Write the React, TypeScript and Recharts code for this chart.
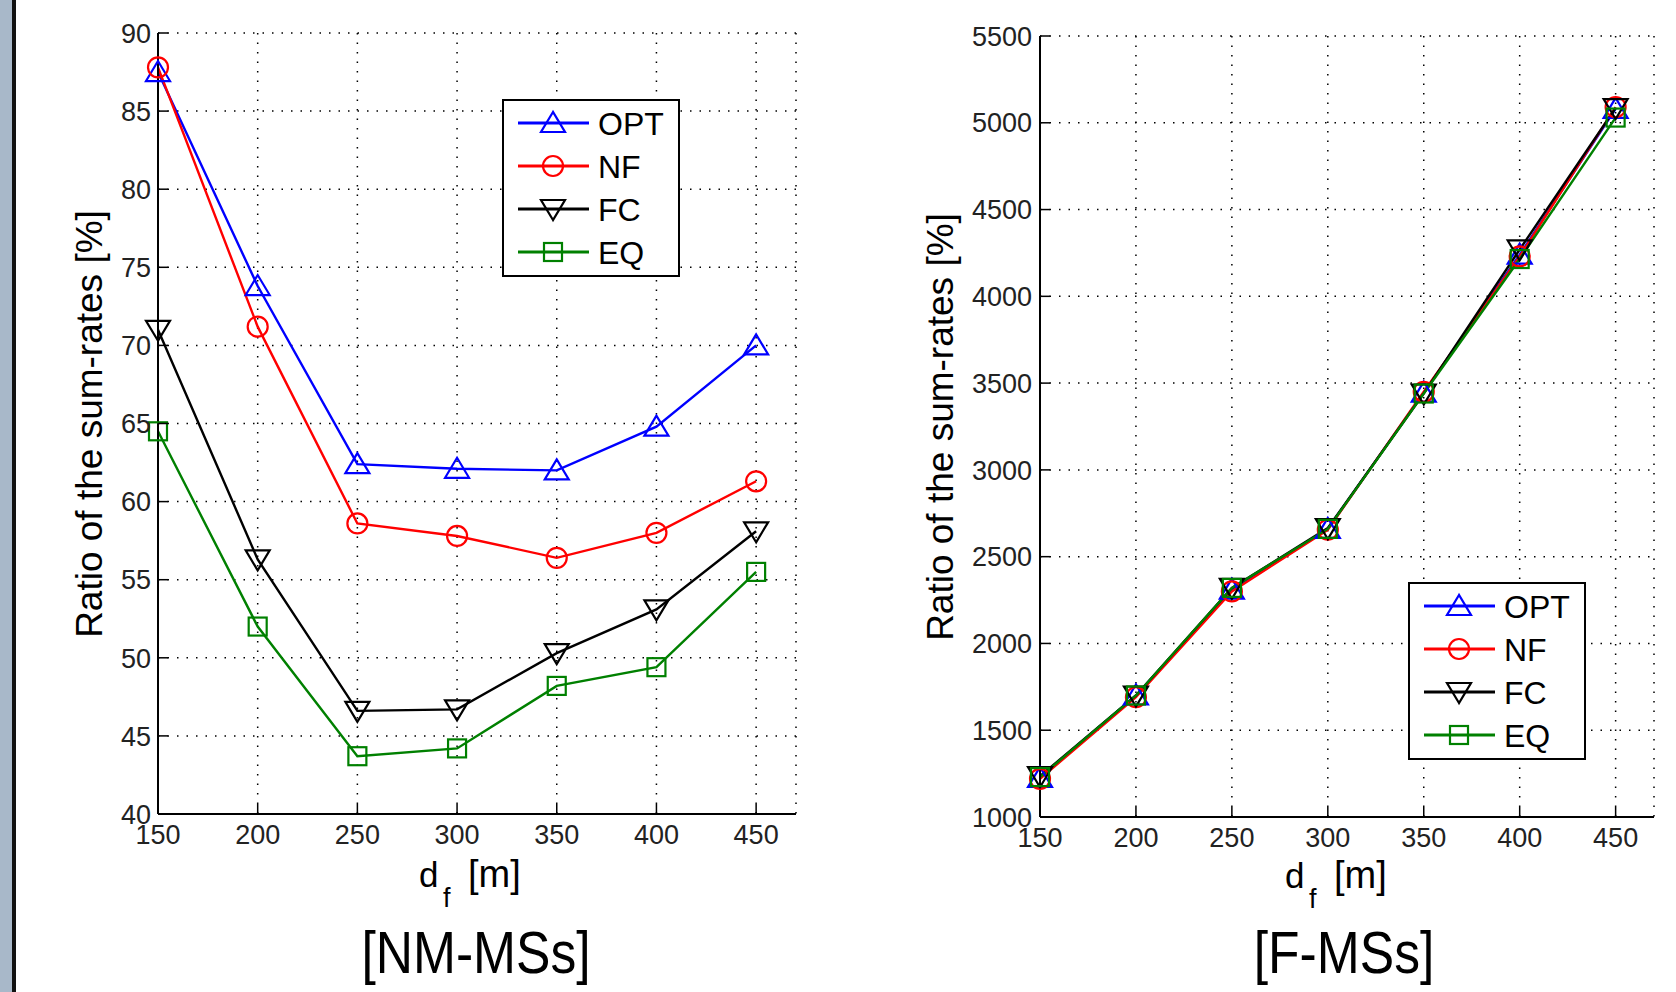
import React from 'react'
import { LineChart, Line, XAxis, YAxis, CartesianGrid, Legend } from 'recharts'

// distance d_f [m]
const distances = [150, 200, 250, 300, 350, 400, 450]
const xTicks = [150, 200, 250, 300, 350, 400, 450]

// [NM-MSs] ratio of sum-rates [%]
const nmOpt = [87.5, 73.8, 62.4, 62.1, 62.0, 64.8, 70.0]
const nmNf = [87.8, 71.2, 58.6, 57.8, 56.4, 58.0, 61.3]
const nmFc = [71.0, 56.3, 46.6, 46.7, 50.3, 53.1, 58.1]
const nmEq = [64.5, 52.0, 43.7, 44.2, 48.2, 49.4, 55.5]
const nmTicks = [40, 45, 50, 55, 60, 65, 70, 75, 80, 85, 90]

// [F-MSs] ratio of sum-rates [%]
const fOpt = [1225, 1700, 2310, 2660, 3445, 4240, 5080]
const fNf = [1220, 1690, 2300, 2655, 3450, 4230, 5090]
const fFc = [1235, 1700, 2320, 2665, 3440, 4270, 5085]
const fEq = [1230, 1700, 2320, 2660, 3440, 4215, 5030]
const fTicks = [1000, 1500, 2000, 2500, 3000, 3500, 4000, 4500, 5000, 5500]

const SERIES = [
  { key: 'OPT', color: '#0000ff', shape: 'up' },
  { key: 'NF', color: '#ff0000', shape: 'circle' },
  { key: 'FC', color: '#000000', shape: 'down' },
  { key: 'EQ', color: '#008000', shape: 'square' },
]

const FONT = '"Liberation Sans", Arial, sans-serif'

const nmData = distances.map((d, i) => ({ d, OPT: nmOpt[i], NF: nmNf[i], FC: nmFc[i], EQ: nmEq[i] }))
const fData = distances.map((d, i) => ({ d, OPT: fOpt[i], NF: fNf[i], FC: fFc[i], EQ: fEq[i] }))

function Marker({ cx, cy, shape, color }: { cx: number; cy: number; shape: string; color: string }) {
  if (cx == null || cy == null) return null
  const common = { fill: 'none', stroke: color, strokeWidth: 2.2 }
  if (shape === 'up')
    return <polygon points={`${cx},${cy - 11} ${cx - 12},${cy + 9} ${cx + 12},${cy + 9}`} {...common} />
  if (shape === 'down')
    return <polygon points={`${cx},${cy + 11} ${cx - 12},${cy - 9} ${cx + 12},${cy - 9}`} {...common} />
  if (shape === 'circle') return <circle cx={cx} cy={cy} r={10} {...common} />
  return <rect x={cx - 9} y={cy - 9} width={18} height={18} {...common} />
}

function LegendBox() {
  return (
    <svg width={178} height={178} style={{ display: 'block' }}>
      <rect x={1} y={1} width={176} height={176} fill="#fff" stroke="#000" strokeWidth={2} />
      {SERIES.map((s, i) => {
        const y = 24 + i * 43
        return (
          <g key={s.key}>
            <line x1={16} x2={87} y1={y} y2={y} stroke={s.color} strokeWidth={2.8} />
            <Marker cx={51} cy={y} shape={s.shape} color={s.color} />
            <text x={96} y={y} dy="0.36em" fontSize={32} fontFamily={FONT} fill="#000">
              {s.key}
            </text>
          </g>
        )
      })}
    </svg>
  )
}

function YTick(props: any) {
  const { x, y, payload, margin } = props
  const ax = x + margin
  return (
    <g>
      <line x1={ax} x2={ax + 10} y1={y} y2={y} stroke="#000" strokeWidth={1.5} />
      <text x={x} y={y} dy="0.36em" textAnchor="end" fontSize={27} fontFamily={FONT} fill="#222">
        {payload.value}
      </text>
    </g>
  )
}

function XTick(props: any) {
  const { x, y, payload } = props
  const ay = y - 11
  return (
    <g>
      <line x1={x} x2={x} y1={ay} y2={ay - 10} stroke="#000" strokeWidth={1.5} />
      <text x={x} y={y} dy="0.71em" textAnchor="middle" fontSize={27} fontFamily={FONT} fill="#222">
        {payload.value}
      </text>
    </g>
  )
}

type PanelProps = {
  data: any[]
  yDomain: [number, number]
  yTicks: number[]
  width: number
  margin: { top: number; right: number; bottom: number; left: number }
  yAxisWidth: number
  yTickMargin: number
  legendPos: { left: number; top: number }
}

function Panel({ data, yDomain, yTicks, width, margin, yAxisWidth, yTickMargin, legendPos }: PanelProps) {
  return (
    <LineChart width={width} height={992} data={data} margin={margin}>
      <CartesianGrid stroke="#000" strokeDasharray="1.5 8" strokeWidth={1.5} />
      <XAxis
        dataKey="d"
        type="number"
        domain={[150, 470]}
        ticks={xTicks}
        height={40}
        tickSize={0}
        tickMargin={11}
        tickLine={false}
        axisLine={{ stroke: '#000', strokeWidth: 2 }}
        tick={(p: any) => <XTick {...p} />}
        interval={0}
      />
      <YAxis
        type="number"
        domain={yDomain}
        ticks={yTicks}
        width={yAxisWidth}
        tickSize={0}
        tickMargin={yTickMargin}
        tickLine={false}
        axisLine={{ stroke: '#000', strokeWidth: 2 }}
        tick={(p: any) => <YTick {...p} margin={yTickMargin} />}
        interval={0}
      />
      {SERIES.map((s) => (
        <Line
          key={s.key}
          type="linear"
          dataKey={s.key}
          stroke={s.color}
          strokeWidth={2.4}
          isAnimationActive={false}
          activeDot={false}
          dot={(p: any) => <Marker key={`${s.key}-${p.index}`} cx={p.cx} cy={p.cy} shape={s.shape} color={s.color} />}
        />
      ))}
      <Legend
        layout="vertical"
        align="center"
        verticalAlign="middle"
        wrapperStyle={{ left: legendPos.left, top: legendPos.top, width: 178, height: 178 }}
        content={() => <LegendBox />}
      />
    </LineChart>
  )
}

function XLabel({ x, y }: { x: number; y: number }) {
  return (
    <g>
      <text x={x} y={y} fontSize={35}>d</text>
      <text x={x + 24} y={y + 20} fontSize={27}>f</text>
      <text x={x + 49} y={y} fontSize={38}>[m]</text>
    </g>
  )
}

export default function App() {
  return (
    <div style={{ position: 'absolute', left: 0, top: 0, width: 1676, height: 992, background: '#fff', overflow: 'hidden' }}>
      <div style={{ position: 'absolute', left: 0, top: 0, width: 12, height: 992, background: '#a8b8c9' }} />
      <div style={{ position: 'absolute', left: 12, top: 0, width: 4, height: 992, background: '#111' }} />
      <div style={{ position: 'absolute', left: 0, top: 0 }}>
        <Panel
          data={nmData}
          yDomain={[40, 90]}
          yTicks={nmTicks}
          width={830}
          margin={{ top: 33, right: 34, bottom: 138, left: 88 }}
          yAxisWidth={70}
          yTickMargin={7}
          legendPos={{ left: 502, top: 99 }}
        />
      </div>
      <div style={{ position: 'absolute', left: 840, top: 0 }}>
        <Panel
          data={fData}
          yDomain={[1000, 5500]}
          yTicks={fTicks}
          width={836}
          margin={{ top: 36, right: 22, bottom: 135, left: 120 }}
          yAxisWidth={80}
          yTickMargin={8}
          legendPos={{ left: 568, top: 582 }}
        />
      </div>
      <svg width={1676} height={992} style={{ position: 'absolute', left: 0, top: 0, pointerEvents: 'none' }}>
        <g fontFamily={FONT} fill="#000">
          <text transform="translate(102,424) rotate(-90)" textAnchor="middle" fontSize={37}>
            Ratio of the sum-rates [%]
          </text>
          <text transform="translate(953,427) rotate(-90)" textAnchor="middle" fontSize={37}>
            Ratio of the sum-rates [%]
          </text>
          <XLabel x={419} y={887} />
          <XLabel x={1285} y={888} />
          <text transform="translate(476,973) scale(0.86,1)" textAnchor="middle" fontSize={60}>
            [NM-MSs]
          </text>
          <text transform="translate(1344,973) scale(0.86,1)" textAnchor="middle" fontSize={60}>
            [F-MSs]
          </text>
        </g>
      </svg>
    </div>
  )
}
